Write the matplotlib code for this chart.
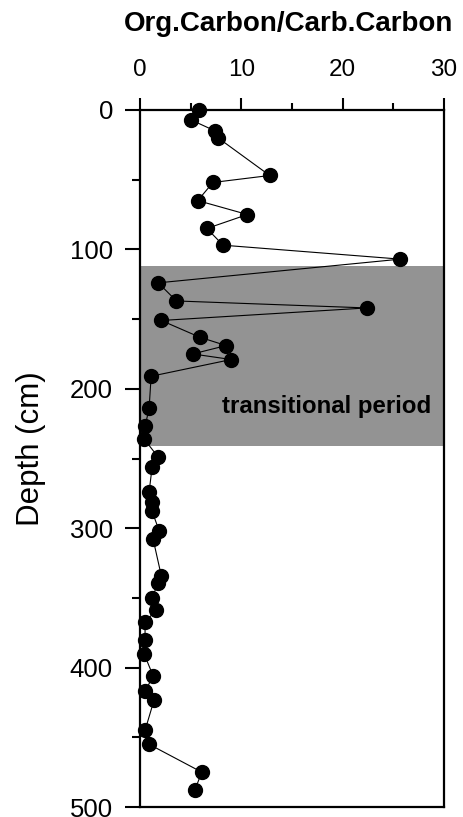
import matplotlib
matplotlib.use("Agg")
import matplotlib.pyplot as plt
from matplotlib.ticker import MultipleLocator

plt.rcParams["font.family"] = ["Liberation Sans", "DejaVu Sans"]

# Org.C / Carb.C ratio against depth (cm)
ratio = [5.8, 5.0, 7.4, 7.7, 12.8, 7.2, 5.7, 10.6, 6.6, 8.2,
         25.7, 1.8, 3.6, 22.4, 2.1, 5.9, 8.5, 5.2, 9.0, 1.1,
         0.9, 0.5, 0.4, 1.8, 1.2, 0.9, 1.2, 1.2, 1.9, 1.3,
         2.1, 1.8, 1.2, 1.6, 0.5, 0.5, 0.4, 1.3, 0.5, 1.4,
         0.5, 0.9, 6.1, 5.4]
depth = [0, 7, 15, 20, 47, 52, 65, 75, 85, 97,
         107, 124, 137, 142, 151, 163, 169, 175, 179, 191,
         214, 227, 236, 249, 256, 274, 281, 288, 302, 308,
         334, 339, 350, 359, 367, 380, 390, 406, 417, 423,
         445, 455, 475, 488]

transition_top = 112
transition_bottom = 241
transition_label = "transitional period"

fig = plt.figure(figsize=(4.64, 8.17), dpi=100)
ax = fig.add_axes([0.3017, 0.0122, 0.6552, 0.8532])

ax.axhspan(transition_top, transition_bottom, color="#939393", lw=0, zorder=0)
ax.plot(ratio, depth, color="black", lw=0.8, marker="o", markersize=10,
        markerfacecolor="black", markeredgecolor="black", clip_on=False, zorder=3)

ax.text(28.7, 213, transition_label, ha="right", va="center",
        fontsize=17.3, fontweight="bold", color="black")

ax.set_xlim(0, 30)
ax.set_ylim(500, 0)
ax.xaxis.tick_top()
ax.xaxis.set_major_locator(MultipleLocator(10))
ax.xaxis.set_minor_locator(MultipleLocator(5))
ax.yaxis.set_major_locator(MultipleLocator(100))
ax.yaxis.set_minor_locator(MultipleLocator(50))

ax.tick_params(axis="x", which="major", direction="out", length=9, width=1.5,
               labelsize=17.5, pad=12)
ax.tick_params(axis="x", which="minor", direction="out", length=5, width=1.5)
ax.tick_params(axis="y", which="major", direction="out", length=10.5, width=1.5,
               labelsize=18.5, pad=9)
ax.tick_params(axis="y", which="minor", direction="out", length=6, width=1.5)

for side in ["top", "bottom", "left", "right"]:
    ax.spines[side].set_linewidth(1.6)

fig.text(31 / 464, 1 - 449 / 817, "Depth (cm)", rotation=90,
         ha="center", va="center", fontsize=22.5)
fig.text(0.622, 0.971, "Org.Carbon/Carb.Carbon", ha="center", va="center",
         fontsize=20, fontweight="bold")

fig.savefig("out.png", dpi=100)
